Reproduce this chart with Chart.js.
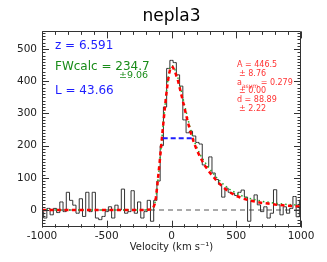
<!DOCTYPE html>
<html>
<head>
<meta charset="utf-8">
<script src="https://cdn.jsdelivr.net/npm/chart.js@4/dist/chart.umd.min.js"></script>
<style>
  html, body { margin: 0; padding: 0; background: #fff; }
  canvas { display: block; }
</style>
</head>
<body>
<canvas id="myChart" width="327" height="262"></canvas>
<script>
// observed spectrum (histogram, 25 km/s bins)
const velocity = [
  -1000, -975, -950, -925, -900, -875, -850, -825, -800, -775,
  -750, -725, -700, -675, -650, -625, -600, -575, -550, -525,
  -500, -475, -450, -425, -400, -375, -350, -325, -300, -275,
  -250, -225, -200, -175, -150, -125, -100, -75, -50, -25,
  0, 25, 50, 75, 100, 125, 150, 175, 200, 225,
  250, 275, 300, 325, 350, 375, 400, 425, 450, 475,
  500, 525, 550, 575, 600, 625, 650, 675, 700, 725,
  750, 775, 800, 825, 850, 875, 900, 925, 950, 975, 1000
];
const flux = [
  -5, -25, 5, -15, 5, -8, 25, -5, 55, 30,
  15, -10, 35, -20, 55, -5, 55, -25, -30, -20,
  -5, 10, -25, 15, 0, 65, -10, -5, 60, -10,
  25, -25, -5, 30, -35, 30, 90, 200, 320, 440,
  465, 458, 420, 385, 280, 240, 245, 230, 210, 205,
  140, 135, 165, 115, 95, 80, 40, 68, 55, 52,
  45, 55, 62, 40, -35, 30, 47, 16, -5, 10,
  -25, -10, 63, 16, -15, 10, -10, 5, 42, -21, 31
];

// fitted profiles
const modelVel = [
  -1000, -800, -600, -400, -200, -150, -140, -130, -120, -110,
  -100, -90, -80, -70, -60, -50, -40, -30, -20, -10,
  0, 10, 25, 50, 75, 100, 125, 150, 175, 200,
  225, 250, 300, 350, 400, 450, 500, 550, 600, 700,
  800, 900, 1000
];
const modelRed = [
  0, 0, 0, 0, 0, 2, 8, 18, 40, 75,
  115, 155, 198, 240, 282, 322, 360, 393, 420, 438,
  446, 444, 432, 402, 360, 318, 275, 238, 207, 182,
  162, 142, 114, 90, 70, 55, 44, 36, 30, 22,
  17, 13, 11
];
const modelGreen = [
  0, 0, 0, 0, 0, 2, 7, 17, 38, 72,
  112, 153, 196, 240, 283, 324, 363, 397, 424, 442,
  449, 448, 438, 410, 370, 328, 285, 246, 215, 190,
  170, 153, 125, 100, 80, 64, 52, 43, 36, 27,
  21, 17, 15
];

// FWHM marker
const fwhmVel = [-68, 166];
const fwhmLevel = 223;

// axes
const xTicks = [-1000, -500, 0, 500, 1000];
const yTicks = [0, 100, 200, 300, 400, 500];
const xRange = [-1000, 1000];
const yRange = [-55, 555];
const xMinorStep = 100;
const yMinorStep = 10;

const FONT = 'DejaVu Sans';

const toXY = (xs, ys) => xs.map((x, i) => ({ x: x, y: ys[i] }));

const frameTicks = {
  id: 'frameTicks',
  afterDraw(chart) {
    const { ctx, chartArea: a, scales: { x, y } } = chart;
    ctx.save();
    ctx.strokeStyle = '#333';
    ctx.lineWidth = 1;
    ctx.beginPath();
    ctx.rect(Math.round(a.left) + 0.5, Math.round(a.top) + 0.5,
      Math.round(a.right - a.left) - 1, Math.round(a.bottom - a.top) - 1);
    ctx.stroke();
    ctx.beginPath();
    for (let v = xRange[0]; v <= xRange[1]; v += xMinorStep) {
      const px = Math.round(x.getPixelForValue(v)) + 0.5;
      const len = v % 500 === 0 ? 7 : 3.5;
      ctx.moveTo(px, a.bottom); ctx.lineTo(px, a.bottom - len);
      ctx.moveTo(px, a.top); ctx.lineTo(px, a.top + len);
    }
    for (let v = -50; v <= 550; v += yMinorStep) {
      const py = Math.round(y.getPixelForValue(v)) + 0.5;
      const len = v % 100 === 0 ? 7 : 3.5;
      ctx.moveTo(a.left, py); ctx.lineTo(a.left + len, py);
      ctx.moveTo(a.right, py); ctx.lineTo(a.right - len, py);
    }
    ctx.stroke();
    ctx.restore();
  }
};

const labels = {
  id: 'labels',
  afterDraw(chart) {
    const ctx = chart.ctx;
    ctx.save();
    ctx.textAlign = 'left';
    ctx.textBaseline = 'alphabetic';
    ctx.font = '12px "' + FONT + '"';
    ctx.fillStyle = 'rgb(30,30,255)';
    ctx.fillText('z = 6.591', 55, 49);
    ctx.fillText('L = 43.66', 55, 93.5);
    ctx.fillStyle = 'rgb(25,140,25)';
    ctx.fillText('FWcalc = 234.7', 55, 69.5);
    ctx.font = '9.5px "' + FONT + '"';
    ctx.fillText('\u00b19.06', 119, 78);

    ctx.fillStyle = 'rgb(255,50,50)';
    ctx.font = '8px "' + FONT + '"';
    ctx.fillText('A = 446.5', 237, 66.7);
    ctx.fillText('\u00b1 8.76', 239, 76);
    ctx.fillText('a', 237, 85);
    const aw = ctx.measureText('a').width;
    ctx.font = '6px "' + FONT + '"';
    ctx.fillText('asym', 237 + aw, 87.5);
    const sw = ctx.measureText('asym').width;
    ctx.font = '8px "' + FONT + '"';
    ctx.fillText(' = 0.279', 237 + aw + sw, 85);
    ctx.fillText('\u00b1 0.00', 239, 93);
    ctx.fillText('d = 88.89', 237, 102.3);
    ctx.fillText('\u00b1 2.22', 239, 111);
    ctx.restore();
  }
};

const config = {
  type: 'line',
  data: {
    datasets: [
      {
        label: 'zero',
        data: toXY(xRange, [0, 0]),
        borderColor: '#555',
        borderWidth: 1,
        borderDash: [5, 4],
        pointRadius: 0,
        order: 5
      },
      {
        label: 'spectrum',
        data: toXY(velocity, flux),
        borderColor: '#333',
        borderWidth: 1,
        stepped: 'middle',
        pointRadius: 0,
        order: 4
      },
      {
        label: 'green fit',
        data: toXY(modelVel, modelGreen),
        borderColor: 'rgb(40,170,40)',
        borderWidth: 1.5,
        borderDash: [1.5, 3],
        pointRadius: 0,
        order: 3
      },
      {
        label: 'red fit',
        data: toXY(modelVel, modelRed),
        borderColor: 'rgb(255,0,0)',
        borderWidth: 2.5,
        borderDash: [4, 3.5],
        pointRadius: 0,
        order: 2
      },
      {
        label: 'fwhm',
        data: toXY(fwhmVel, [fwhmLevel, fwhmLevel]),
        borderColor: 'rgb(30,30,255)',
        borderWidth: 2,
        borderDash: [5, 3],
        pointRadius: 0,
        order: 1
      }
    ]
  },
  options: {
    responsive: false,
    animation: false,
    layout: { padding: { left: 0, right: 26, top: 0, bottom: 0 } },
    plugins: {
      legend: { display: false },
      tooltip: { enabled: false },
      title: {
        display: true,
        text: 'nepla3',
        fullSize: false,
        color: '#000',
        font: { family: FONT, size: 17, weight: 'normal' },
        padding: { top: 6, bottom: 5 }
      }
    },
    scales: {
      x: {
        type: 'linear',
        min: xRange[0],
        max: xRange[1],
        afterBuildTicks: (s) => { s.ticks = xTicks.map(v => ({ value: v })); },
        afterFit: (s) => { s.height = 34.3; },
        grid: { display: false, drawTicks: false },
        border: { display: false },
        ticks: {
          padding: 2,
          color: '#222',
          maxRotation: 0,
          font: { family: FONT, size: 10.5 },
          callback: (v) => String(v)
        },
        title: {
          display: true,
          text: 'Velocity (km s\u207b\u00b9)',
          color: '#222',
          font: { family: FONT, size: 10 },
          padding: { top: 0, bottom: 9 }
        }
      },
      y: {
        min: yRange[0],
        max: yRange[1],
        afterBuildTicks: (s) => { s.ticks = yTicks.map(v => ({ value: v })); },
        afterFit: (s) => { s.width = 42; },
        grid: { display: false, drawTicks: false },
        border: { display: false },
        ticks: {
          padding: 5,
          color: '#222',
          font: { family: FONT, size: 10.5 },
          callback: (v) => String(v)
        }
      }
    }
  },
  plugins: [frameTicks, labels]
};

const myChart = new Chart(document.getElementById('myChart'), config);
</script>
</body>
</html>
